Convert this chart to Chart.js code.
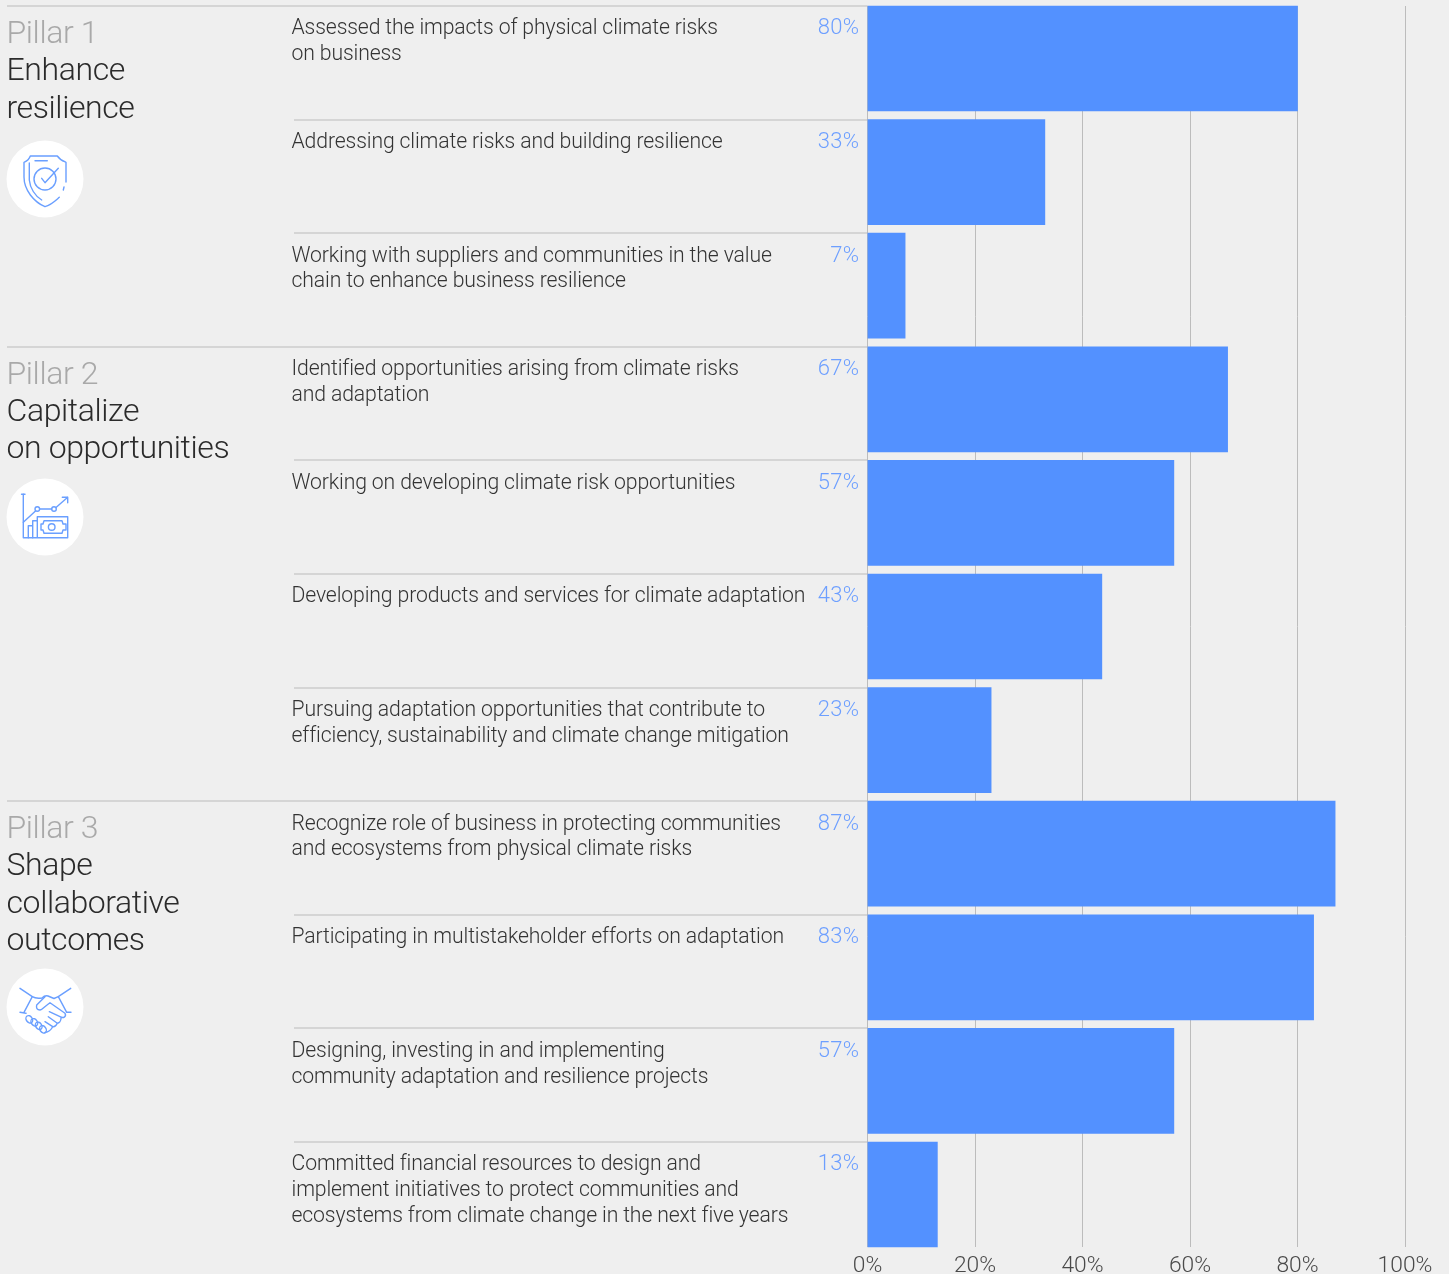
<!DOCTYPE html>
<html><head><meta charset="utf-8">
<script src="https://cdn.jsdelivr.net/npm/chart.js@4"></script>
<style>
html,body{margin:0;padding:0;background:#efefef;width:1449px;height:1274px;overflow:hidden}
#wrap{position:absolute;left:0;top:0;width:1449px;height:1274px}
svg.icon{position:absolute;width:78px;height:78px;overflow:visible}
svg.icon *{fill:none;stroke:#6a9fff;stroke-width:1.4;stroke-linecap:round;stroke-linejoin:round}
svg.icon circle.bg{fill:#fff;stroke:none}
</style></head><body>
<div id="wrap"><canvas id="c" width="1449" height="1274"></canvas></div>
<svg class="icon" style="left:6px;top:140px" viewBox="0 0 78 78">
<circle class="bg" cx="39" cy="39" r="38.5"/>
<path d="M60 42 L60 22.3 C57 21 54 20 51.3 16 L24.3 16 C23 20 21 21 18 22.3 L18 37 C18 50 28 62 39 66.7 C45 65 49 61 53.3 57.3"/>
<path d="M58 47 L57.3 50"/>
<path d="M23.3 23 L23.3 40 C24 48 29 56 35.7 60"/>
<path d="M29 20.7 L41.3 20.7"/>
<circle cx="39" cy="39" r="11"/>
<path d="M35.7 38.3 L39 42.7 L52.3 28.3"/>
</svg>
<svg class="icon" style="left:6px;top:478px" viewBox="0 0 78 78">
<circle class="bg" cx="39" cy="39" r="38.5"/>
<path d="M17.3 16.3 L17.3 59.7 L61.7 59.7 L61.7 38.7 L31.3 38.7 L31.3 59.7"/>
<path d="M15.5 16.3 L19 16.3"/>
<path d="M17.3 44.3 L29.5 33 M33.6 31 L45.7 31 M50 29.5 L61.7 19.3 M56.3 19.3 L61.7 19.3 L61.7 24.7"/>
<circle cx="31.3" cy="31" r="2.3"/><circle cx="48" cy="31" r="2.3"/>
<path d="M38 42.7 L56 42.7 L57 46 L60 46 L60 52 L57 52 L56 55.3 L38 55.3 L37 52 L35 52 L35 46 L37 46 Z"/>
<circle cx="45.7" cy="49" r="3.3"/>
<path d="M22.3 59.7 L22.3 47.7 L26.7 47.7 L26.7 59.7 M26.7 47.7 L26.7 42.7 L31.3 42.7"/>
</svg>
<svg class="icon" style="left:6px;top:968px" viewBox="0 0 78 78">
<circle class="bg" cx="39" cy="39" r="38.5"/>
<path d="M14 20.3 L26.3 28.7 L18 44.3 M14 44.3 L20 45.3 M64.7 20.3 L52.3 28.7 L60.7 44.3 L65 44.3"/>
<path d="M26.3 28.7 C30 31 33 30.5 36 30 C38 28 40 27.5 42 28 L48 30.5 L52.3 28.7"/>
<path d="M39 28.7 L30.7 37 C30 40 31 42 34 42 C36 42 38 39 44 34.7 L59 45.3 C60.5 48 58 51 54 48.7 L43.3 43.7 M55 50.3 C55 53 53 55 51.3 55.3 L42.3 48.7 M51.3 55.3 C50 58 48 59 46.7 58.7 L39 53.7 M46.7 58.7 C45 62 43 64 39 64.5"/>
<ellipse cx="23.3" cy="51.3" rx="3" ry="4" transform="rotate(-35 23.3 51.3)"/>
<ellipse cx="28.3" cy="54.3" rx="3" ry="4" transform="rotate(-35 28.3 54.3)"/>
<ellipse cx="32.7" cy="57.8" rx="3" ry="4" transform="rotate(-35 32.7 57.8)"/>
<ellipse cx="37" cy="61.3" rx="3" ry="4" transform="rotate(-35 37 61.3)"/>
</svg>
<script>
const FONT = 'Roboto, "Liberation Sans", Arial, sans-serif';
const categories = [
 ["Assessed the impacts of physical climate risks","on business"],
 ["Addressing climate risks and building resilience"],
 ["Working with suppliers and communities in the value","chain to enhance business resilience"],
 ["Identified opportunities arising from climate risks","and adaptation"],
 ["Working on developing climate risk opportunities"],
 ["Developing products and services for climate adaptation"],
 ["Pursuing adaptation opportunities that contribute to","efficiency, sustainability and climate change mitigation"],
 ["Recognize role of business in protecting communities","and ecosystems from physical climate risks"],
 ["Participating in multistakeholder efforts on adaptation"],
 ["Designing, investing in and implementing","community adaptation and resilience projects"],
 ["Committed financial resources to design and","implement initiatives to protect communities and","ecosystems from climate change in the next five years"]
];
const values = [80,33,7,67,57,43.6,23,87,83,57,13];
const valueLabels = ["80%","33%","7%","67%","57%","43%","23%","87%","83%","57%","13%"];
const xTicks = [0,20,40,60,80,100];
const pillarStarts = [0,3,7];
const pillarNames = ["Pillar 1","Pillar 2","Pillar 3"];
const pillarTitles = [["Enhance","resilience"],["Capitalize","on opportunities"],["Shape","collaborative","outcomes"]];

const BLUE='#5391ff', LINE='#bcbcbc';
const PLOT_TOP=1.7, PLOT_BOT=1251.3, BAR_H=105;

const overlay={id:'overlay',
 beforeDatasetsDraw(ch){
  const c=ch.ctx,x=ch.scales.x,y=ch.scales.y;
  const top=y.getPixelForValue(0)-BAR_H/2, bot=y.getPixelForValue(categories.length-1)+BAR_H/2;
  c.save();c.strokeStyle=LINE;c.lineWidth=1;
  xTicks.forEach(t=>{const px=Math.floor(x.getPixelForValue(t))+.5;c.beginPath();c.moveTo(px,top);c.lineTo(px,bot);c.stroke();});
  categories.forEach((_,i)=>{
    const yy=Math.round(y.getPixelForValue(i)-BAR_H/2);
    const left=pillarStarts.includes(i)?7:294;
    c.lineWidth=1.2;c.beginPath();c.moveTo(left,yy);c.lineTo(x.getPixelForValue(0),yy);c.stroke();
  });
  c.restore();
 },
 afterDatasetsDraw(ch){
  const c=ch.ctx,x=ch.scales.x,y=ch.scales.y;
  c.save();c.textBaseline='alphabetic';
  categories.forEach((lines,i)=>{
    const t=y.getPixelForValue(i)-BAR_H/2;
    c.font='300 21.2px '+FONT;c.letterSpacing='-0.13px';c.fillStyle='#333';c.textAlign='left';
    lines.forEach((l,j)=>c.fillText(l,291.5,t+28.4+j*25.7));
    c.font='300 22px '+FONT;c.letterSpacing='0.4px';c.fillStyle='#6d9fff';c.textAlign='right';
    c.fillText(valueLabels[i],x.getPixelForValue(0)-8,t+28.4);
  });
  pillarStarts.forEach((s,k)=>{
    const t=y.getPixelForValue(s)-BAR_H/2;
    c.textAlign='left';c.font='300 32px '+FONT;c.letterSpacing='-0.4px';c.fillStyle='#a9a9a9';
    c.fillText(pillarNames[k],6.5,t+37);
    c.fillStyle='#2b2b2b';
    pillarTitles[k].forEach((l,j)=>c.fillText(l,6.5,t+74.2+j*37.4));
  });
  c.restore();
 }
};

new Chart(document.getElementById('c'),{
 type:'bar',
 data:{labels:categories,datasets:[{data:values,backgroundColor:BLUE,barThickness:BAR_H,borderWidth:0}]},
 plugins:[overlay],
 options:{
  indexAxis:'y',responsive:false,animation:false,devicePixelRatio:1,
  layout:{padding:{left:867.5,right:44,top:PLOT_TOP,bottom:0}},
  plugins:{legend:{display:false},tooltip:{enabled:false}},
  scales:{
   x:{min:0,max:100,position:'bottom',afterFit(s){s.height=1274-PLOT_BOT;},
      grid:{display:false,drawTicks:false},border:{display:false},
      ticks:{stepSize:20,maxRotation:0,padding:1,font:{family:FONT,size:22.8,weight:'300'},color:'#4a4a4a',callback:v=>v+'%'}},
   y:{display:false,grid:{display:false}}
  }
 }
});
</script>
</body></html>
